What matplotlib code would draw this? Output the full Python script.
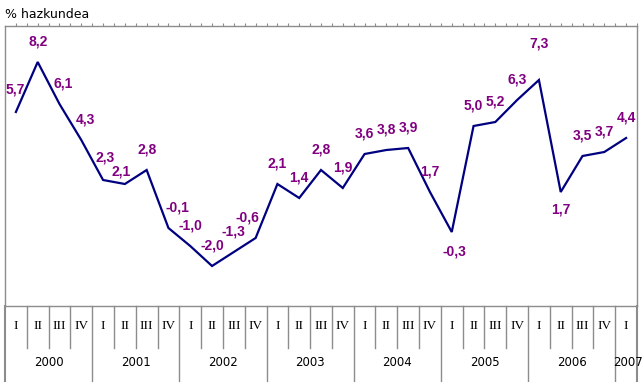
import numpy as np
import matplotlib
matplotlib.use("Agg")
import matplotlib.pyplot as plt

# ---- data ----
years = ["2000", "2001", "2002", "2003", "2004", "2005", "2006", "2007"]
quarters = ["I", "II", "III", "IV"]
growth = [5.7, 8.2, 6.1, 4.3,
          2.3, 2.1, 2.8, -0.1,
          -1.0, -2.0, -1.3, -0.6,
          2.1, 1.4, 2.8, 1.9,
          3.6, 3.8, 3.9, 1.7,
          -0.3, 5.0, 5.2, 6.3,
          7.3, 1.7, 3.5, 3.7,
          4.4]
ylabel_text = "% hazkundea"

# label offsets (pixels) -- styling
default_off = (0, 20)
special_off = {0: (-1, 22), 2: (4, 21), 3: (4, 20), 4: (2, 23), 5: (-4, 12),
               7: (9, 21), 11: (-8, 21), 20: (3, -19), 24: (0, 37), 25: (0, -17)}

n = len(growth)
x = np.arange(n)
qlabels = [quarters[i % 4] for i in range(n)]

W, H = 643, 382
fig = plt.figure(figsize=(W / 100, H / 100), dpi=100)
left_px, right_px, top_px, bot_px = 5, 637, 26, 306
ax = fig.add_axes([left_px / W, (H - bot_px) / H, (right_px - left_px) / W, (bot_px - top_px) / H])

gray = "#8c8c8c"
ax.plot(x, growth, color="#000080", lw=1.6, solid_joinstyle="miter")
ax.set_xlim(-0.5, n - 0.5)
ax.set_ylim(-4, 10)

for sp in ax.spines.values():
    sp.set_color(gray)
    sp.set_linewidth(1.0)

ax.set_yticks([])
ax.xaxis.set_ticks_position("top")
ax.set_xticks(np.arange(0, n - 0.4, 0.5))
ax.tick_params(axis="x", direction="out", length=2.5, color=gray, width=0.8, labeltop=False, labelbottom=False)

for i, v in enumerate(growth):
    dx, dy = special_off.get(i, default_off)
    ax.annotate(f"{v:.1f}".replace(".", ","), (x[i], v), xytext=(dx, dy),
                textcoords="offset pixels", ha="center", va="center",
                color="#800080", fontsize=10, fontweight="bold",
                family="Liberation Sans")

# category table below axes
tr = ax.get_xaxis_transform()
ax_h = bot_px - top_px
q_bottom = -(348 - bot_px) / ax_h
fig_bottom = -(H - bot_px) / ax_h
for k in range(n - 1):
    xb = k + 0.5
    if (k + 1) % 4 == 0:
        ax.plot([xb, xb], [0, fig_bottom], transform=tr, color=gray, lw=1.0, clip_on=False)
    else:
        ax.plot([xb, xb], [0, q_bottom], transform=tr, color=gray, lw=1.0, clip_on=False)
for xb in (-0.5, n - 0.5):
    ax.plot([xb, xb], [0, fig_bottom], transform=tr, color=gray, lw=1.5, clip_on=False)

qy = -(326 - bot_px) / ax_h
for i in range(n):
    ax.text(x[i], qy, qlabels[i], transform=tr, ha="center", va="center",
            fontsize=9.5, family="Liberation Serif", color="black")

yy = -(362 - bot_px) / ax_h
for j, yr in enumerate(years):
    idx = [i for i in range(n) if i // 4 == j]
    cx = (idx[0] + idx[-1]) / 2
    if len(idx) == 1:
        cx += 0.1
    ax.text(cx, yy, yr, transform=tr, ha="center", va="center",
            fontsize=8.5, family="DejaVu Sans", color="black")

fig.text(5 / W, 1 - 15 / H, ylabel_text, ha="left", va="center", fontsize=9, family="DejaVu Sans")

fig.savefig("out.png", dpi=100)
